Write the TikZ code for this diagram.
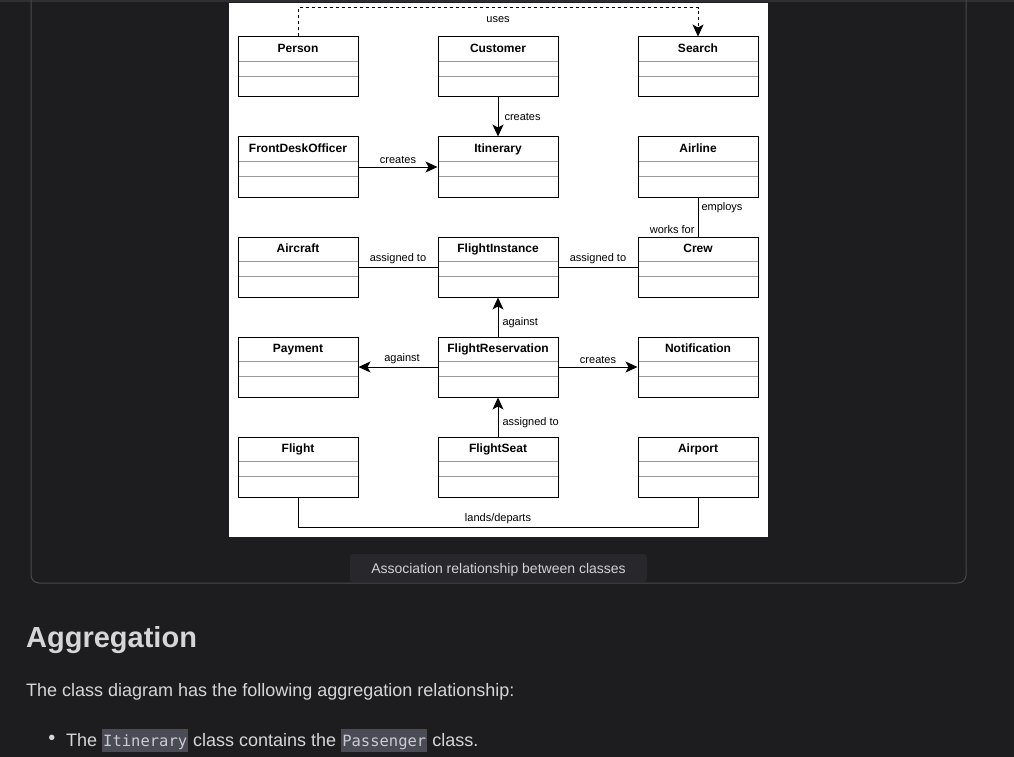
\documentclass[tikz,border=0pt]{standalone}
\usepackage{fontspec}
\setmainfont{Liberation Sans}
\newfontfamily\codefont{DejaVu Sans Mono}
\usetikzlibrary{arrows.meta}

\definecolor{pagebg}{HTML}{1D1D1F}
\definecolor{topband}{HTML}{2E2E33}
\definecolor{cardline}{HTML}{48484E}
\definecolor{capbg}{HTML}{28282C}
\definecolor{captext}{HTML}{D2D2D6}
\definecolor{headtext}{HTML}{D6D6DA}
\definecolor{codebg}{HTML}{4B4B56}
\definecolor{codetext}{HTML}{CACAD3}
\definecolor{sepgray}{HTML}{9A9A9A}

\newcommand{\inlinecode}[1]{{\setlength{\fboxsep}{0pt}\colorbox{codebg}{\vrule width0pt height17pt depth6pt\kern1pt{\codefont\fontsize{15.5}{18}\selectfont\color{codetext}#1}\kern1pt}}}

\tikzset{
  umlclass/.style={draw, line width=1pt, fill=white, minimum width=120pt, minimum height=60pt, inner sep=0pt,
    path picture={\draw[sepgray, line width=0.8pt]
      ([yshift=-24pt]path picture bounding box.north west) -- ([yshift=-24pt]path picture bounding box.north east)
      ([yshift=-39pt]path picture bounding box.north west) -- ([yshift=-39pt]path picture bounding box.north east);}},
  clstitle/.style={anchor=base, yshift=-16pt, inner sep=0pt, font=\fontsize{12}{14}\selectfont\bfseries},
  assoc/.style={line width=1pt},
  directed/.style={assoc, -{Stealth[length=12pt,width=11pt,inset=3pt]}},
  lbl/.style={font=\fontsize{11}{13}\selectfont, inner sep=3pt},
  pagetext/.style={text=headtext, inner sep=0pt, anchor=base west}
}

\begin{document}
\begin{tikzpicture}[x=1pt, y=-1pt]
\useasboundingbox (0,0) rectangle (1014,757);
\clip (0,0) rectangle (1014,757);
% page
\fill[pagebg] (0,0) rectangle (1014,757);
\fill[topband] (0,0) rectangle (1014,2.5);
\draw[cardline, line width=1pt, rounded corners=8pt] (31,-20) rectangle (966,583);
\fill[white] (229,3) rectangle (768,537);

% classes
\foreach \nm/\px/\py/\ttl in {person/298/67/Person, customer/498/67/Customer, search/698/67/Search,
  frontdesk/298/167/FrontDeskOfficer, itinerary/498/167/Itinerary, airline/698/167/Airline,
  aircraft/298/267/Aircraft, finstance/498/267/FlightInstance, crew/698/267/Crew,
  payment/298/367/Payment, freserv/498/367/FlightReservation, notification/698/367/Notification,
  flight/298/467/Flight, fseat/498/467/FlightSeat, airport/698/467/Airport}
  \node[umlclass, label={[clstitle]north:\ttl}] (\nm) at (\px,\py) {};

\coordinate (usesrow) at (498,8);
\coordinate (landsrow) at (498,527);

% associations
\draw[directed, dash pattern=on 3pt off 3pt] (person.north) -- (person.north |- usesrow)
  -- node[lbl, below, yshift=-5pt] {uses} (search.north |- usesrow) -- (search.north);
\draw[directed] (customer) -- node[lbl, right, xshift=3pt] {creates} (itinerary);
\draw[directed] (frontdesk) -- node[lbl, above] {creates} (itinerary);
\draw[assoc] (airline) -- node[lbl, pos=0.27, right] {employs} node[lbl, pos=0.82, left] {works for} (crew);
\draw[assoc] (aircraft) -- node[lbl, above] {assigned to} (finstance);
\draw[assoc] (finstance) -- node[lbl, above] {assigned to} (crew);
\draw[directed] (freserv) -- node[lbl, right, xshift=1pt, yshift=-6pt] {against} (finstance);
\draw[directed] (freserv) -- node[lbl, above, xshift=4pt] {against} (payment);
\draw[directed] (freserv) -- node[lbl, above] {creates} (notification);
\draw[directed] (fseat) -- node[lbl, right, xshift=1pt, yshift=-6pt] {assigned to} (freserv);
\draw[assoc] (flight.south) -- (flight.south |- landsrow)
  -- node[lbl, above] {lands/departs} (airport.south |- landsrow) -- (airport.south);

% caption and text below
\fill[capbg, rounded corners=3pt] (350,554) rectangle (647,582);
\node[inner sep=0pt, anchor=base, text=captext, font=\fontsize{14}{16}\selectfont] (caption) at (498.5,573) {Association relationship between classes};
\node[pagetext, font=\fontsize{29}{32}\selectfont\bfseries] (heading) at (26,647) {Aggregation};
\node[pagetext, font=\fontsize{18}{22}\selectfont] (para) at (26,696) {The class diagram has the following aggregation relationship:};
\node[text=headtext, inner sep=0pt, font=\fontsize{20}{22}\selectfont] (bullet) at (52,740) {•};
\node[pagetext, font=\fontsize{18}{22}\selectfont] (item) at (66,746) {The \inlinecode{Itinerary} class contains the \inlinecode{Passenger} class.};
\end{tikzpicture}
\end{document}
